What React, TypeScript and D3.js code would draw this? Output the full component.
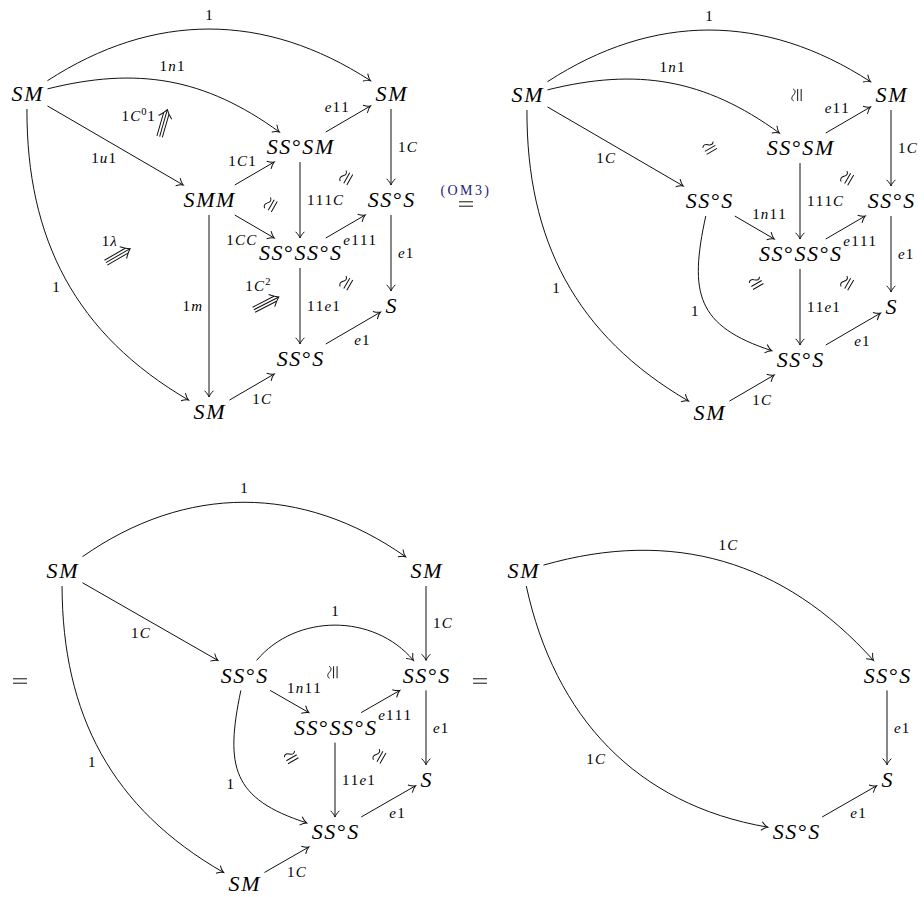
import React from "react";
import * as d3 from "d3";

const W = 924;
const H = 897;
const FONT = "'Liberation Serif', 'DejaVu Serif', serif";
const NODE_SIZE = 22;
const LABEL_SIZE = 15;
const NODE_SPACING = 1.6;
const LABEL_SPACING = 1.2;
const COL = 91;
const ROW = 53;
const INK = "#111";

// ---- diagram 1 (top left) ----
const d1Nodes = [
  { id: "a", text: "SM", col: 0, row: 0 },
  { id: "b", text: "SM", col: 4, row: 0 },
  { id: "c", text: "SS°SM", col: 3, row: 1 },
  { id: "d", text: "SMM", col: 2, row: 2 },
  { id: "e", text: "SS°S", col: 4, row: 2 },
  { id: "f", text: "SS°SS°S", col: 3, row: 3 },
  { id: "g", text: "S", col: 4, row: 4 },
  { id: "h", text: "SS°S", col: 3, row: 5 },
  { id: "i", text: "SM", col: 2, row: 6 },
];
const d1Edges = [
  { from: "a", to: "b", text: "1", side: "l", bend: -33 },
  { from: "a", to: "c", text: "1n1", side: "l", bend: -25 },
  { from: "a", to: "d", text: "1u1", side: "r" },
  { from: "a", to: "i", text: "1", side: "r", bend: 30 },
  { from: "c", to: "b", text: "e11", side: "l" },
  { from: "b", to: "e", text: "1C", side: "l" },
  { from: "d", to: "c", text: "1C1", side: "l" },
  { from: "c", to: "f", text: "111C", side: "l" },
  { from: "d", to: "f", text: "1CC", side: "r" },
  { from: "f", to: "e", text: "e111", side: "r" },
  { from: "e", to: "g", text: "e1", side: "l" },
  { from: "d", to: "i", text: "1m", side: "r" },
  { from: "f", to: "h", text: "11e1", side: "l" },
  { from: "h", to: "g", text: "e1", side: "r" },
  { from: "i", to: "h", text: "1C", side: "r" },
];
const d1Isos = [
  { col: 2.68, row: 2.09, rot: -60 },
  { col: 3.51, row: 1.58, rot: -60 },
  { col: 3.51, row: 3.57, rot: -60 },
];
const d1Cells = [
  { col: 1.5, row: 0.55, angle: -74, text: "1C^01" },
  { col: 1.0, row: 3.05, angle: -30, text: "1λ" },
  { col: 2.63, row: 3.95, angle: -27, text: "1C^2" },
];

// ---- diagram 2 (top right) ----
const d2Nodes = [
  { id: "a", text: "SM", col: 0, row: 0 },
  { id: "b", text: "SM", col: 4, row: 0 },
  { id: "c", text: "SS°SM", col: 3, row: 1 },
  { id: "d", text: "SS°S", col: 2, row: 2 },
  { id: "e", text: "SS°S", col: 4, row: 2 },
  { id: "f", text: "SS°SS°S", col: 3, row: 3 },
  { id: "g", text: "S", col: 4, row: 4 },
  { id: "h", text: "SS°S", col: 3, row: 5 },
  { id: "i", text: "SM", col: 2, row: 6 },
];
const d2Edges = [
  { from: "a", to: "b", text: "1", side: "l", bend: -33 },
  { from: "a", to: "c", text: "1n1", side: "l", bend: -25 },
  { from: "a", to: "d", text: "1C", side: "r" },
  { from: "a", to: "i", text: "1", side: "r", bend: 30 },
  { from: "c", to: "b", text: "e11", side: "l" },
  { from: "b", to: "e", text: "1C", side: "l" },
  { from: "c", to: "f", text: "111C", side: "l" },
  { from: "d", to: "f", text: "1n11", side: "l" },
  { from: "f", to: "e", text: "e111", side: "r" },
  { from: "e", to: "g", text: "e1", side: "l" },
  { from: "d", to: "h", text: "1", side: "r", bend: 42, loose: 1.35 },
  { from: "f", to: "h", text: "11e1", side: "l" },
  { from: "h", to: "g", text: "e1", side: "r" },
  { from: "i", to: "h", text: "1C", side: "r" },
];
const d2Isos = [
  { col: 2.97, row: 0, rot: -90 },
  { col: 2.01, row: 1.0, rot: -30 },
  { col: 3.52, row: 1.57, rot: -60 },
  { col: 2.52, row: 3.55, rot: -30 },
  { col: 3.52, row: 3.55, rot: -60 },
];

// ---- diagram 3 (bottom left) ----
const d3Nodes = [
  { id: "a", text: "SM", col: 0, row: 0 },
  { id: "b", text: "SM", col: 4, row: 0 },
  { id: "d", text: "SS°S", col: 2, row: 2 },
  { id: "e", text: "SS°S", col: 4, row: 2 },
  { id: "f", text: "SS°SS°S", col: 3, row: 3 },
  { id: "g", text: "S", col: 4, row: 4 },
  { id: "h", text: "SS°S", col: 3, row: 5 },
  { id: "i", text: "SM", col: 2, row: 6 },
];
const d3Edges = [
  { from: "a", to: "b", text: "1", side: "l", bend: -35 },
  { from: "a", to: "d", text: "1C", side: "r" },
  { from: "b", to: "e", text: "1C", side: "l" },
  { from: "a", to: "i", text: "1", side: "r", bend: 30 },
  { from: "d", to: "e", text: "1", side: "l", bend: -50 },
  { from: "d", to: "f", text: "1n11", side: "l" },
  { from: "f", to: "e", text: "e111", side: "r" },
  { from: "e", to: "g", text: "e1", side: "l" },
  { from: "d", to: "h", text: "1", side: "r", bend: 42, loose: 1.35 },
  { from: "f", to: "h", text: "11e1", side: "l" },
  { from: "h", to: "g", text: "e1", side: "r" },
  { from: "i", to: "h", text: "1C", side: "r" },
];
const d3Isos = [
  { col: 2.98, row: 1.94, rot: -90 },
  { col: 2.52, row: 3.57, rot: -30 },
  { col: 3.49, row: 3.55, rot: -60 },
];

// ---- diagram 4 (bottom right) ----
const d4Nodes = [
  { id: "a", text: "SM", col: 0, row: 0 },
  { id: "e", text: "SS°S", col: 4, row: 2 },
  { id: "g", text: "S", col: 4, row: 4 },
  { id: "h", text: "SS°S", col: 3, row: 5 },
];
const d4Edges = [
  { from: "a", to: "e", text: "1C", side: "l", bend: -32 },
  { from: "a", to: "h", text: "1C", side: "r", bend: 34 },
  { from: "e", to: "g", text: "e1", side: "l" },
  { from: "h", to: "g", text: "e1", side: "r" },
];

const panels = [
  { key: "p1", origin: [27, 94], rowStep: ROW, nodes: d1Nodes, edges: d1Edges, isos: d1Isos, cells: d1Cells },
  { key: "p2", origin: [527, 95], rowStep: ROW, nodes: d2Nodes, edges: d2Edges, isos: d2Isos, cells: [] },
  { key: "p3", origin: [62, 571], rowStep: 52.2, nodes: d3Nodes, edges: d3Edges, isos: d3Isos, cells: [] },
  { key: "p4", origin: [523, 571], rowStep: 52.2, nodes: d4Nodes, edges: d4Edges, isos: [], cells: [] },
];

// equals signs between the diagrams
const equalsSigns = [
  { x: 466, y: 204, note: "(OM3)" },
  { x: 20, y: 681, note: "" },
  { x: 480, y: 681, note: "" },
];

let ctx: CanvasRenderingContext2D | null = null;
function measure(ch: string, size: number, italic: boolean) {
  if (!ctx) ctx = document.createElement("canvas").getContext("2d");
  if (!ctx) return size * 0.5;
  ctx.font = `${italic ? "italic " : ""}${size}px ${FONT}`;
  return ctx.measureText(ch).width;
}

function layoutMath(s: string, size: number, spacing: number) {
  let x = 0;
  let sup = false;
  const glyphs: any[] = [];
  for (const ch of Array.from(s)) {
    if (ch === "^") {
      sup = true;
      continue;
    }
    const italic = /[A-Za-zλ]/.test(ch);
    const sz = sup ? size * 0.7 : size;
    glyphs.push({ ch, italic, size: sz, x, dy: sup ? -size * 0.42 : 0 });
    x += measure(ch, sz, italic) + (sup ? spacing * 0.5 : spacing);
    sup = false;
  }
  return { glyphs, width: x - spacing };
}

function MathText({ m, cx, baseline }: any) {
  const x0 = cx - m.width / 2;
  return (
    <g>
      {m.glyphs.map((g: any, i: number) => (
        <text
          key={i}
          x={x0 + g.x}
          y={baseline + g.dy}
          style={{ fontFamily: FONT, fontSize: `${g.size}px`, fontStyle: g.italic ? "italic" : "normal" }}
          fill="#000"
        >
          {g.ch}
        </text>
      ))}
    </g>
  );
}

function boxExit(n: any, ang: number) {
  const dx = Math.cos(ang);
  const dy = Math.sin(ang);
  const tx = Math.abs(dx) > 1e-6 ? n.hw / Math.abs(dx) : Infinity;
  const ty = Math.abs(dy) > 1e-6 ? n.hh / Math.abs(dy) : Infinity;
  const t = Math.min(tx, ty);
  return [n.cx + dx * t, n.cy + dy * t];
}

// offset of a label box from the point it hangs off, on normal (nx, ny)
function labelOffset(nx: number, ny: number, hw: number, hh: number, gap: number) {
  const dist = Math.abs(nx) * hw + Math.abs(ny) * hh + gap;
  const sx = nx * dist;
  const sy = ny * dist;
  if (Math.abs(nx) < 0.3 || Math.abs(ny) < 0.3) return [sx, sy];
  const cx = Math.sign(nx) * (hw + 2);
  const cy = Math.sign(ny) * (hh + 4);
  return [(sx + cx) / 2, (sy + cy) / 2];
}

const HEAD = "M-6.2,-4.4 C-4,-2.1 -1.6,-0.5 0,0 C-1.6,0.5 -4,2.1 -6.2,4.4";

function Edge({ e, nodes }: any) {
  const a = nodes.get(e.from);
  const b = nodes.get(e.to);
  const base = Math.atan2(b.cy - a.cy, b.cx - a.cx);
  const bend = ((e.bend || 0) * Math.PI) / 180;
  const outA = base + bend;
  const inA = base - bend;
  const p0 = boxExit(a, outA);
  const p3 = boxExit(b, inA + Math.PI);
  const L = Math.hypot(p3[0] - p0[0], p3[1] - p0[1]);
  const c = e.bend ? 0.3915 * L * (e.loose || 1) : L / 3;
  const p1 = [p0[0] + c * Math.cos(outA), p0[1] + c * Math.sin(outA)];
  const p2 = [p3[0] - c * Math.cos(inA), p3[1] - c * Math.sin(inA)];
  const path = d3.path();
  path.moveTo(p0[0], p0[1]);
  path.bezierCurveTo(p1[0], p1[1], p2[0], p2[1], p3[0], p3[1]);

  const mx = (p0[0] + 3 * p1[0] + 3 * p2[0] + p3[0]) / 8;
  const my = (p0[1] + 3 * p1[1] + 3 * p2[1] + p3[1]) / 8;
  let tx = p3[0] + p2[0] - p1[0] - p0[0];
  let ty = p3[1] + p2[1] - p1[1] - p0[1];
  const tl = Math.hypot(tx, ty);
  tx /= tl;
  ty /= tl;
  const nx = e.side === "l" ? ty : -ty;
  const ny = e.side === "l" ? -tx : tx;
  const m = layoutMath(e.text, LABEL_SIZE, LABEL_SPACING);
  const [ox, oy] = labelOffset(nx, ny, m.width / 2, LABEL_SIZE * 0.36, e.bend ? 9 : 7);
  const headAng = (inA * 180) / Math.PI;

  return (
    <g>
      <path d={path.toString()} fill="none" stroke={INK} strokeWidth={1} />
      <path
        d={HEAD}
        transform={`translate(${p3[0]},${p3[1]}) rotate(${headAng})`}
        fill="none"
        stroke={INK}
        strokeWidth={1}
      />
      <MathText m={m} cx={mx + ox} baseline={my + oy + LABEL_SIZE * 0.34} />
    </g>
  );
}

const ISO = "M-6,-3.6 C-4.5,-6.4 -1.8,-5.6 0,-3.8 C1.8,-2 4.5,-1.2 6,-4 M-6,0.4 L6,0.4 M-6,3.9 L6,3.9";

function TripleArrow({ cx, cy, angle, text }: any) {
  const h = 14;
  const r = (angle * Math.PI) / 180;
  const nx = Math.sin(r);
  const ny = -Math.cos(r);
  const m = layoutMath(text, LABEL_SIZE, LABEL_SPACING);
  const dist = Math.abs(nx) * (m.width / 2) + Math.abs(ny) * LABEL_SIZE * 0.36 + 9;
  return (
    <g>
      <g transform={`translate(${cx},${cy}) rotate(${angle})`} fill="none" stroke={INK} strokeWidth={1}>
        <path d={`M${-h},-2.8 L${h - 4},-2.8 M${-h},0 L${h},0 M${-h},2.8 L${h - 4},2.8`} />
        <path d={`M${h - 8},-6.8 C${h - 5},-3.6 ${h - 2},-1.1 ${h},0 C${h - 2},1.1 ${h - 5},3.6 ${h - 8},6.8`} />
      </g>
      <MathText m={m} cx={cx + nx * dist} baseline={cy + ny * dist + LABEL_SIZE * 0.34} />
    </g>
  );
}

function Panel({ p }: any) {
  const x = d3.scaleLinear().domain([0, 4]).range([p.origin[0], p.origin[0] + 4 * COL]);
  const y = d3.scaleLinear().domain([0, 6]).range([p.origin[1], p.origin[1] + 6 * p.rowStep]);
  const nodes = new Map<string, any>(
    p.nodes.map((n: any) => {
      const m = layoutMath(n.text, NODE_SIZE, NODE_SPACING);
      return [n.id, { ...n, m, cx: x(n.col), cy: y(n.row), hw: m.width / 2 + 5, hh: 15 }];
    }),
  );
  return (
    <g>
      {p.edges.map((e: any, i: number) => (
        <Edge key={i} e={e} nodes={nodes} />
      ))}
      {Array.from(nodes.values()).map((n: any) => (
        <MathText key={n.id} m={n.m} cx={n.cx} baseline={n.cy + NODE_SIZE * 0.33} />
      ))}
      {p.isos.map((s: any, i: number) => (
        <path
          key={`iso-${i}`}
          d={ISO}
          transform={`translate(${x(s.col)},${y(s.row)}) rotate(${s.rot})`}
          fill="none"
          stroke={INK}
          strokeWidth={1}
        />
      ))}
      {p.cells.map((c: any, i: number) => (
        <TripleArrow key={`cell-${i}`} cx={x(c.col)} cy={y(c.row)} angle={c.angle} text={c.text} />
      ))}
    </g>
  );
}

export default function App() {
  return (
    <svg
      width={W}
      height={H}
      viewBox={`0 0 ${W} ${H}`}
      style={{ position: "absolute", left: 0, top: 0, background: "#fff" }}
    >
      <rect width={W} height={H} fill="#fff" />
      {panels.map((p) => (
        <Panel key={p.key} p={p} />
      ))}
      {equalsSigns.map((q, i) => (
        <g key={i}>
          <path
            d={`M${q.x - 7},${q.y - 2.2} L${q.x + 7},${q.y - 2.2} M${q.x - 7},${q.y + 2.2} L${q.x + 7},${q.y + 2.2}`}
            stroke={INK}
            strokeWidth={1}
          />
          {q.note && (
            <text
              x={q.x}
              y={q.y - 9}
              textAnchor="middle"
              style={{ fontFamily: FONT, fontSize: "14px", letterSpacing: "2.4px" }}
              fill="#23237a"
            >
              {q.note}
            </text>
          )}
        </g>
      ))}
    </svg>
  );
}
